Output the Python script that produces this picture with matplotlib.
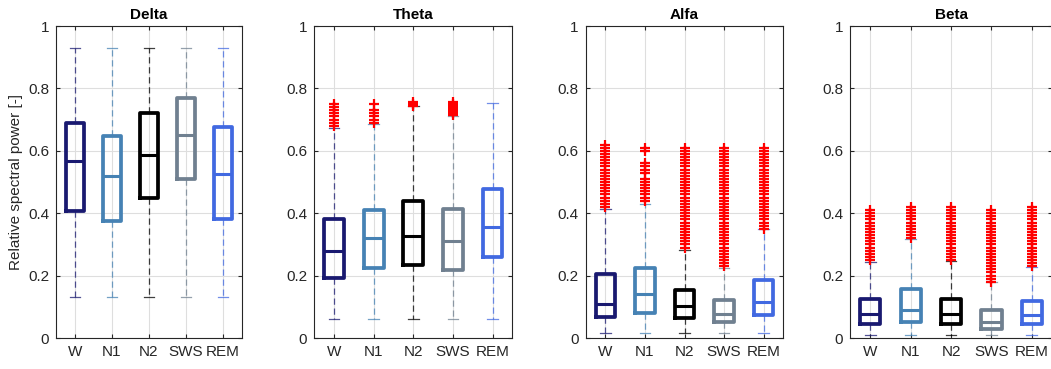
import matplotlib
matplotlib.use('Agg')
import matplotlib.pyplot as plt

plt.rcParams['font.family'] = ['Liberation Sans', 'DejaVu Sans']
plt.rcParams['font.size'] = 11

bands = ['Delta', 'Theta', 'Alfa', 'Beta']
stages = ['W', 'N1', 'N2', 'SWS', 'REM']
colors = ['#191970', '#4682B4', '#000000', '#708090', '#4169E1']

# box stats per band (rows) and stage (columns)
q1 = [[0.406, 0.374, 0.450, 0.510, 0.380],
      [0.193, 0.225, 0.233, 0.217, 0.259],
      [0.067, 0.081, 0.065, 0.051, 0.073],
      [0.046, 0.051, 0.046, 0.030, 0.046]]
med = [[0.567, 0.519, 0.588, 0.650, 0.526],
       [0.278, 0.319, 0.328, 0.310, 0.356],
       [0.108, 0.140, 0.102, 0.078, 0.116],
       [0.077, 0.091, 0.076, 0.051, 0.075]]
q3 = [[0.688, 0.648, 0.720, 0.768, 0.676],
      [0.383, 0.410, 0.439, 0.415, 0.479],
      [0.206, 0.225, 0.153, 0.121, 0.185],
      [0.125, 0.158, 0.125, 0.091, 0.119]]
wlo = [[0.132, 0.132, 0.132, 0.132, 0.132],
       [0.062, 0.062, 0.062, 0.062, 0.062],
       [0.016, 0.016, 0.016, 0.016, 0.016],
       [0.009, 0.009, 0.009, 0.009, 0.009]]
whi = [[0.930, 0.930, 0.930, 0.930, 0.930],
       [0.674, 0.686, 0.743, 0.711, 0.752],
       [0.412, 0.431, 0.283, 0.225, 0.348],
       [0.242, 0.316, 0.248, 0.180, 0.228]]

# outliers (red crosses)
delta_out = [[], [], [], [], []]
theta_out = [[0.68, 0.69, 0.70, 0.71, 0.72, 0.73, 0.74, 0.75],
             [0.69, 0.70, 0.71, 0.72, 0.73, 0.75],
             [0.745, 0.75, 0.755],
             [0.715, 0.72, 0.725, 0.73, 0.735, 0.74, 0.745, 0.75, 0.755],
             []]
alfa_out = [[0.42, 0.43, 0.44, 0.45, 0.46, 0.47, 0.48, 0.49, 0.50, 0.51, 0.52,
             0.53, 0.54, 0.55, 0.56, 0.57, 0.58, 0.59, 0.60, 0.61, 0.62],
            [0.44, 0.45, 0.46, 0.47, 0.48, 0.49, 0.50, 0.51, 0.53, 0.54, 0.55,
             0.56, 0.60, 0.61],
            [0.29, 0.30, 0.31, 0.32, 0.33, 0.34, 0.35, 0.36, 0.37, 0.38, 0.39,
             0.40, 0.41, 0.42, 0.43, 0.44, 0.45, 0.46, 0.47, 0.48, 0.49, 0.50,
             0.51, 0.52, 0.53, 0.54, 0.55, 0.56, 0.57, 0.58, 0.59, 0.60, 0.61],
            [0.23, 0.24, 0.25, 0.26, 0.27, 0.28, 0.29, 0.30, 0.31, 0.32, 0.33,
             0.34, 0.35, 0.36, 0.37, 0.38, 0.39, 0.40, 0.41, 0.42, 0.43, 0.44,
             0.45, 0.46, 0.47, 0.48, 0.49, 0.50, 0.51, 0.52, 0.53, 0.54, 0.55,
             0.56, 0.57, 0.58, 0.59, 0.60, 0.61],
            [0.35, 0.36, 0.37, 0.38, 0.39, 0.40, 0.41, 0.42, 0.43, 0.44, 0.45,
             0.46, 0.47, 0.48, 0.49, 0.50, 0.51, 0.52, 0.53, 0.54, 0.55, 0.56,
             0.57, 0.58, 0.59, 0.60, 0.61]]
beta_out = [[0.25, 0.26, 0.27, 0.28, 0.29, 0.30, 0.31, 0.32, 0.33, 0.34, 0.35,
             0.36, 0.37, 0.38, 0.39, 0.40, 0.41],
            [0.32, 0.33, 0.34, 0.35, 0.36, 0.37, 0.38, 0.39, 0.40, 0.41, 0.42],
            [0.25, 0.26, 0.27, 0.28, 0.29, 0.30, 0.31, 0.32, 0.33, 0.34, 0.35,
             0.36, 0.37, 0.38, 0.39, 0.40, 0.41, 0.42],
            [0.18, 0.19, 0.20, 0.21, 0.22, 0.23, 0.24, 0.25, 0.26, 0.27, 0.28,
             0.29, 0.30, 0.31, 0.32, 0.33, 0.34, 0.35, 0.36, 0.37, 0.38, 0.39,
             0.40, 0.41],
            [0.23, 0.24, 0.25, 0.26, 0.27, 0.28, 0.29, 0.30, 0.31, 0.32, 0.33,
             0.34, 0.35, 0.36, 0.37, 0.38, 0.39, 0.40, 0.41, 0.42]]
outliers = [delta_out, theta_out, alfa_out, beta_out]

yticks = [0, 0.2, 0.4, 0.6, 0.8, 1]
ylabels = ['0', '0.2', '0.4', '0.6', '0.8', '1']

W, H = 1051, 369
# axes boxes in pixels: left, width
boxes_px = [(56.3, 185.4), (314.3, 198), (585.7, 197.6), (850, 202)]
top_px, bot_px = 26, 338

fig = plt.figure(figsize=(W / 100, H / 100), dpi=100)
dark = '#262626'

for b, band in enumerate(bands):
    l, w = boxes_px[b]
    ax = fig.add_axes([l / W, 1 - bot_px / H, w / W, (bot_px - top_px) / H])
    stats = []
    for s in range(5):
        stats.append(dict(med=med[b][s], q1=q1[b][s], q3=q3[b][s],
                          whislo=wlo[b][s], whishi=whi[b][s],
                          fliers=outliers[b][s]))
    pos = [1, 2, 3, 4, 5]
    art = ax.bxp(stats, positions=pos, widths=0.5, capwidths=0.27,
                 showfliers=True, manage_ticks=False)
    for s in range(5):
        c = colors[s]
        bx = art['boxes'][s]
        bx.set_color(c)
        bx.set_linewidth(2.7)
        bx.set_solid_joinstyle('round')
        art['medians'][s].set_color(c)
        art['medians'][s].set_linewidth(2.2)
        for k in (2 * s, 2 * s + 1):
            wl = art['whiskers'][k]
            wl.set_color(c)
            wl.set_alpha(0.75)
            wl.set_linewidth(0.9)
            wl.set_linestyle((0, (5, 3)))
            cp = art['caps'][k]
            cp.set_color(c)
            cp.set_alpha(0.75)
            cp.set_linewidth(0.9)
        fl = art['fliers'][s]
        fl.set_marker('+')
        fl.set_markeredgecolor('red')
        fl.set_markersize(6.5)
        fl.set_markeredgewidth(1.6)
        fl.set_linestyle('none')

    ax.set_xlim(0.5, 5.5)
    ax.set_ylim(0, 1)
    ax.set_xticks(pos)
    ax.set_xticklabels(stages)
    ax.set_yticks(yticks)
    ax.set_yticklabels(ylabels)
    ax.grid(True, color='#dedede', linewidth=0.8)
    ax.set_axisbelow(True)
    ax.tick_params(direction='in', top=True, right=True, length=3,
                   width=0.8, colors=dark, labelsize=11, pad=5)
    for sp in ax.spines.values():
        sp.set_color(dark)
        sp.set_linewidth(0.8)
    ax.set_title(band, fontweight='bold', fontsize=11, pad=5)
    if b == 0:
        ax.set_ylabel('Relative spectral power [-]', fontsize=11, color=dark,
                      labelpad=4)

fig.savefig('out.png', dpi=100)
